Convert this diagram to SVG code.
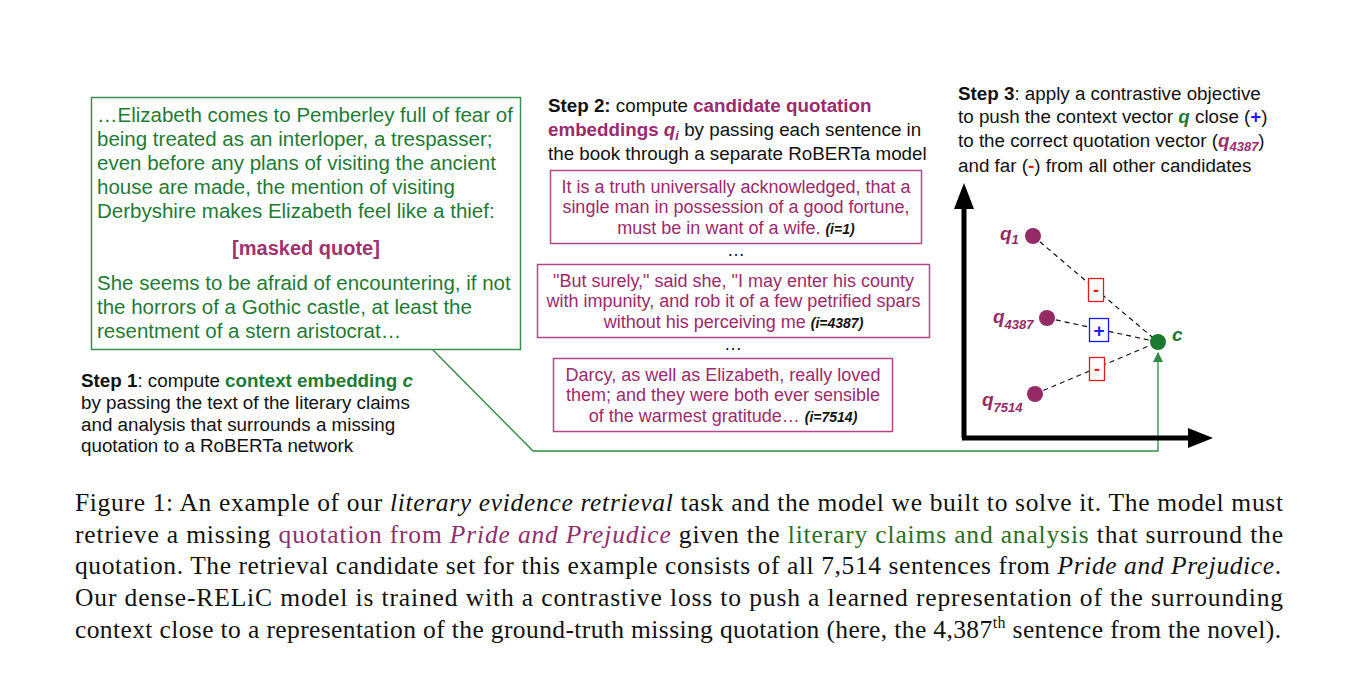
<svg xmlns="http://www.w3.org/2000/svg" width="1370" height="700" viewBox="0 0 1370 700">
<style>
.sans{font-family:"Liberation Sans",Arial,sans-serif}
.serif{font-family:"Liberation Serif","Times New Roman",serif;font-size:25.5px;fill:#111}
.ctx{font-size:20.5px;fill:#1e7b34}
.step{font-size:18.8px;fill:#111}
.cand{font-size:18px;fill:#9c2a6d;text-anchor:middle}
.idx{font-size:14px;font-weight:bold;font-style:italic;fill:#111}
.mag{fill:#9c2a6d}
.grn{fill:#1e7b34}
.b{font-weight:bold}
.i{font-style:italic}
.cbox{fill:#fff;stroke:#b04a86;stroke-width:1.5}
.dash{stroke:#111;stroke-width:1.2;stroke-dasharray:5 4;fill:none}
.dot{fill:#962a66}
.ql{font-size:19px;font-weight:bold;font-style:italic;fill:#962a66}
.qs{font-size:13px}
</style>
<defs>
<marker id="garrow" markerWidth="10" markerHeight="10" refX="9" refY="5" orient="auto" markerUnits="userSpaceOnUse">
<path d="M0,0 L10,5 L0,10 Z" fill="#2e8b45"/>
</marker>
</defs>
<rect width="1370" height="700" fill="#fff"/>

<g id="connectors">
<polyline points="433,350 533,451 1158,451 1158,353" fill="none" stroke="#2e8b45" stroke-width="1.3" marker-end="url(#garrow)"/>
<line class="dash" x1="1033" y1="236" x2="1158" y2="342"/>
<line class="dash" x1="1047" y1="318" x2="1158" y2="342"/>
<line class="dash" x1="1035" y1="394" x2="1158" y2="342"/>
</g>

<g id="context-box">
<rect x="91.5" y="97.5" width="429" height="252" fill="#fff" stroke="#3a8f4f" stroke-width="1.5"/>
<text class="sans ctx" x="97" y="122">…Elizabeth comes to Pemberley full of fear of</text>
<text class="sans ctx" x="97" y="146">being treated as an interloper, a trespasser;</text>
<text class="sans ctx" x="97" y="170">even before any plans of visiting the ancient</text>
<text class="sans ctx" x="97" y="194">house are made, the mention of visiting</text>
<text class="sans ctx" x="97" y="218">Derbyshire makes Elizabeth feel like a thief:</text>
<text class="sans b" x="306" y="255" font-size="20px" fill="#a0306e" text-anchor="middle">[masked quote]</text>
<text class="sans ctx" x="97" y="290">She seems to be afraid of encountering, if not</text>
<text class="sans ctx" x="97" y="314">the horrors of a Gothic castle, at least the</text>
<text class="sans ctx" x="97" y="338">resentment of a stern aristocrat…</text>
</g>

<g id="step1">
<text class="sans step" x="81" y="387"><tspan class="b">Step 1</tspan>: compute <tspan class="b grn">context embedding <tspan class="i">c</tspan></tspan></text>
<text class="sans step" x="81" y="409">by passing the text of the literary claims</text>
<text class="sans step" x="81" y="431">and analysis that surrounds a missing</text>
<text class="sans step" x="81" y="452">quotation to a RoBERTa network</text>
</g>

<g id="step2">
<text class="sans step" x="548" y="112"><tspan class="b">Step 2:</tspan> compute <tspan class="b mag">candidate quotation</tspan></text>
<text class="sans step" x="548" y="136"><tspan class="b mag">embeddings <tspan class="i">q</tspan><tspan class="i" font-size="13px" dy="4">i</tspan></tspan><tspan dy="-4"> by passing each sentence in</tspan></text>
<text class="sans step" x="548" y="160">the book through a separate RoBERTa model</text>
</g>

<g id="cand1">
<rect class="cbox" x="550.5" y="170.5" width="371" height="73"/>
<text class="sans cand" x="736" y="193">It is a truth universally acknowledged, that a</text>
<text class="sans cand" x="736" y="213">single man in possession of a good fortune,</text>
<text class="sans cand" x="736" y="234">must be in want of a wife. <tspan class="idx">(i=1)</tspan></text>
</g>
<text class="sans" x="736" y="256" font-size="18px" fill="#111" text-anchor="middle">…</text>

<g id="cand4387">
<rect class="cbox" x="537.5" y="264.5" width="392" height="73"/>
<text class="sans cand" x="733.5" y="287">"But surely," said she, "I may enter his county</text>
<text class="sans cand" x="733.5" y="307">with impunity, and rob it of a few petrified spars</text>
<text class="sans cand" x="733.5" y="328">without his perceiving me <tspan class="idx">(i=4387)</tspan></text>
</g>
<text class="sans" x="733" y="350" font-size="18px" fill="#111" text-anchor="middle">…</text>

<g id="cand7514">
<rect class="cbox" x="553.5" y="358.5" width="339" height="73"/>
<text class="sans cand" x="723" y="381">Darcy, as well as Elizabeth, really loved</text>
<text class="sans cand" x="723" y="401">them; and they were both ever sensible</text>
<text class="sans cand" x="723" y="422">of the warmest gratitude… <tspan class="idx">(i=7514)</tspan></text>
</g>

<g id="step3">
<text class="sans step" x="958" y="100"><tspan class="b">Step 3</tspan>: apply a contrastive objective</text>
<text class="sans step" x="958" y="123">to push the context vector <tspan class="b i grn">q</tspan> close (<tspan class="b" fill="#1a1aff">+</tspan>)</text>
<text class="sans step" x="958" y="147">to the correct quotation vector (<tspan class="b i mag">q<tspan font-size="13px" dy="4">4387</tspan></tspan><tspan dy="-4">)</tspan></text>
<text class="sans step" x="958" y="172">and far (<tspan class="b" fill="#e51c1c">-</tspan>) from all other candidates</text>
</g>

<g id="axes">
<line x1="964" y1="438" x2="964" y2="205" stroke="#000" stroke-width="5"/>
<polygon points="964,183 954,209 974,209" fill="#000"/>
<line x1="962" y1="438" x2="1190" y2="438" stroke="#000" stroke-width="5"/>
<polygon points="1213,438 1188,428 1188,448" fill="#000"/>
</g>

<g id="q1">
<circle class="dot" cx="1033" cy="236" r="8"/>
<text class="sans ql" x="1000" y="240">q<tspan class="qs" dy="4">1</tspan></text>
</g>
<g id="q4387">
<circle class="dot" cx="1047" cy="318" r="8"/>
<text class="sans ql" x="993" y="323">q<tspan class="qs" dy="6">4387</tspan></text>
</g>
<g id="q7514">
<circle class="dot" cx="1035" cy="394" r="8"/>
<text class="sans ql" x="982" y="406">q<tspan class="qs" dy="6">7514</tspan></text>
</g>
<g id="c">
<circle cx="1158" cy="342" r="8" fill="#1c7a30"/>
<text class="sans" x="1172" y="341" font-size="19px" font-weight="bold" font-style="italic" fill="#1c7a30">c</text>
</g>

<g id="signs">
<rect x="1088.5" y="278.5" width="15" height="23" fill="#fff" stroke="#e51c1c" stroke-width="1.3"/>
<text class="sans b" x="1096" y="296" font-size="18px" fill="#e51c1c" text-anchor="middle">-</text>
<rect x="1089.5" y="318.5" width="19" height="23" fill="#fff" stroke="#1a1aff" stroke-width="1.3"/>
<text class="sans b" x="1099" y="337" font-size="19px" fill="#1a1aff" text-anchor="middle">+</text>
<rect x="1089.5" y="357.5" width="15" height="23" fill="#fff" stroke="#e51c1c" stroke-width="1.3"/>
<text class="sans b" x="1097" y="375" font-size="18px" fill="#e51c1c" text-anchor="middle">-</text>
</g>

<g id="caption">
<text class="serif" x="75" y="511" textLength="1208" lengthAdjust="spacing">Figure 1: An example of our <tspan class="i">literary evidence retrieval</tspan> task and the model we built to solve it. The model must</text>
<text class="serif" x="75" y="543" textLength="1208" lengthAdjust="spacing">retrieve a missing <tspan fill="#8f2f6f">quotation from <tspan class="i">Pride and Prejudice</tspan></tspan> given the <tspan fill="#2a6e22">literary claims and analysis</tspan> that surround the</text>
<text class="serif" x="75" y="574" textLength="1206" lengthAdjust="spacing">quotation. The retrieval candidate set for this example consists of all 7,514 sentences from <tspan class="i">Pride and Prejudice</tspan>.</text>
<text class="serif" x="75" y="606" textLength="1208" lengthAdjust="spacing">Our dense-RELiC model is trained with a contrastive loss to push a learned representation of the surrounding</text>
<text class="serif" x="75" y="638" textLength="1206" lengthAdjust="spacing">context close to a representation of the ground-truth missing quotation (here, the 4,387<tspan font-size="16px" dy="-10">th</tspan><tspan dy="10"> sentence from the novel).</tspan></text>
</g>
</svg>
